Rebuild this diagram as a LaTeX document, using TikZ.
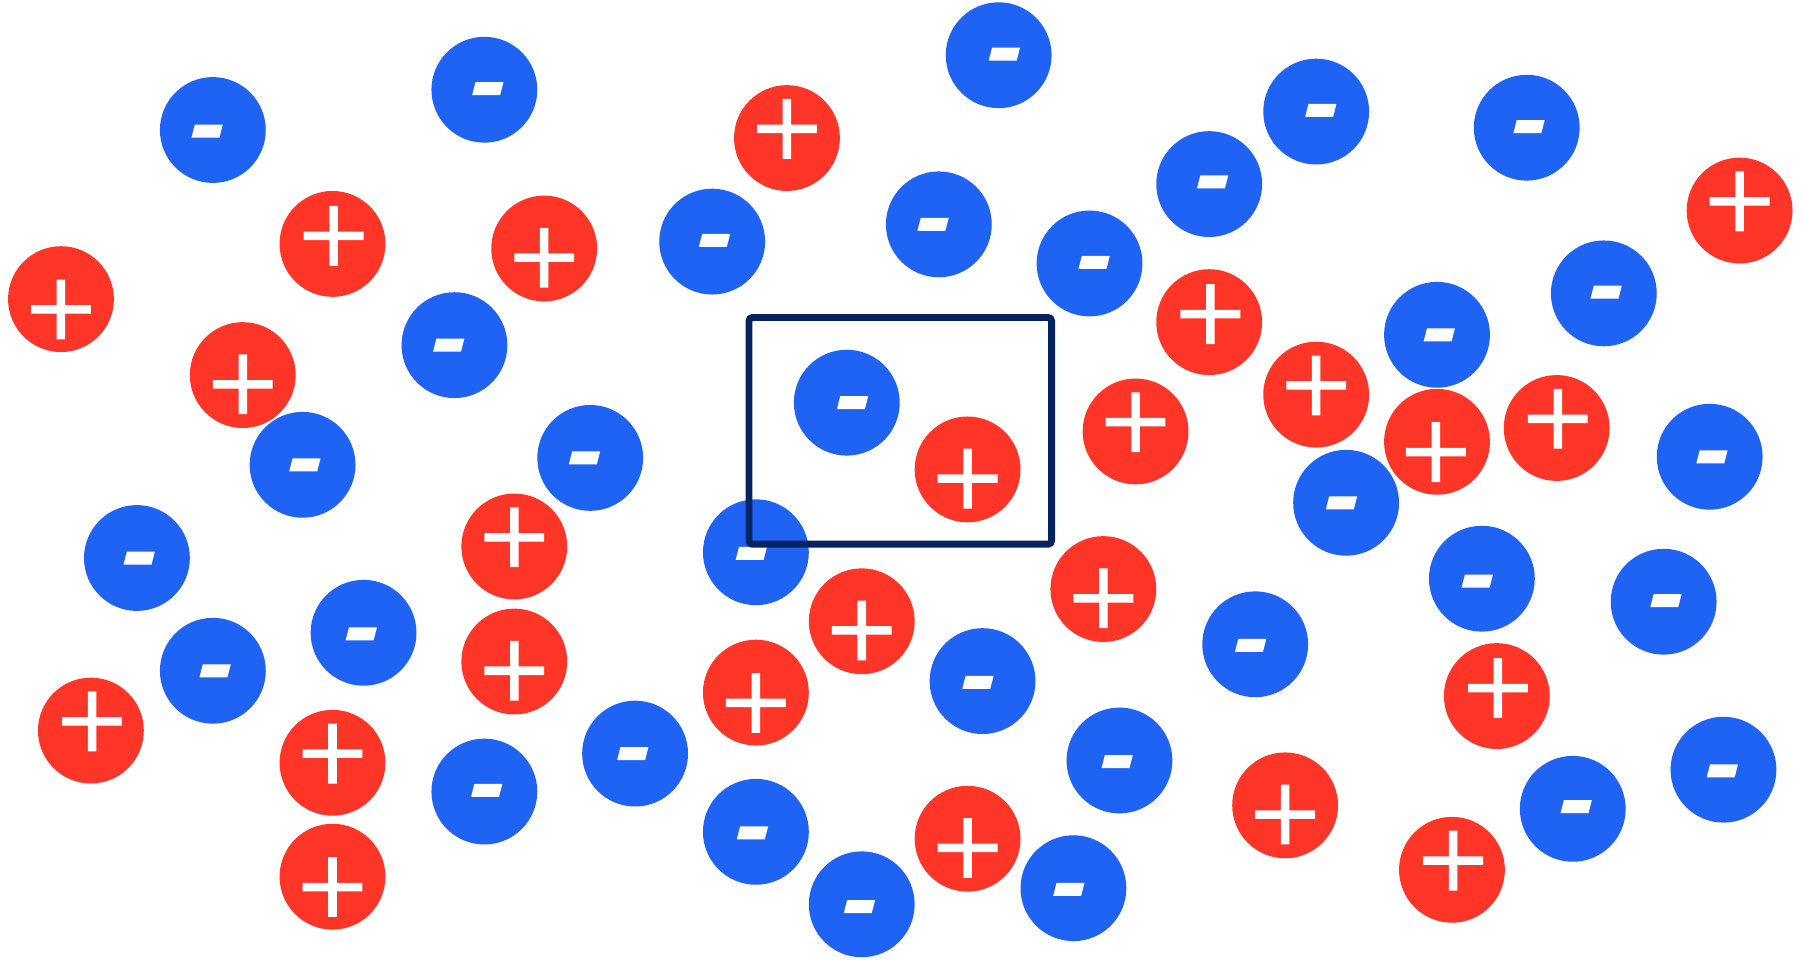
\documentclass[tikz,border=0pt]{standalone}
\definecolor{cblue}{RGB}{31,99,245}
\definecolor{cred}{RGB}{255,53,40}
\definecolor{cnavy}{RGB}{6,36,96}
\tikzset{
  pics/neg/.style 2 args={code={
    \fill[cblue] (0,0) circle[radius=46];
    \fill[white,shift={(#1,#2)}] (-10.7,-5.65) -- (13.6,-5.65) -- (10.7,5.65) -- (-13.6,5.65) -- cycle;
  }},
  pics/pos/.style 2 args={code={
    \fill[cred] (0,0) circle[radius=46];
    \fill[white,shift={(#1,#2)}] (-3.7,-26) rectangle (3.7,26) (-26,-3.7) rectangle (26,3.7);
  }},
  framebox/.style={draw=cnavy, line width=3pt, rounded corners=1.5pt},
}
\begin{document}
\begin{tikzpicture}[x=0.5pt,y=-0.5pt]
\useasboundingbox (0,0) rectangle (1568,834);
% negative ions
\pic at (185,113) {neg={-5}{1}};
\pic at (421,78) {neg={3}{-1}};
\pic at (868,48) {neg={5}{-1}};
\pic at (1144,97) {neg={4}{-1}};
\pic at (1327,111) {neg={2}{-1}};
\pic at (1051,160) {neg={3}{-2}};
\pic at (816,195) {neg={-5}{0}};
\pic at (619,210) {neg={2}{-1}};
\pic at (947,229) {neg={4}{-1}};
\pic at (395,300) {neg={-5}{0}};
\pic at (1394,255) {neg={2}{-1}};
\pic at (1249,291) {neg={2}{0}};
\pic at (736,350) {neg={5}{0}};
\pic at (263,404) {neg={2}{0}};
\pic at (513,398) {neg={-5}{0}};
\pic at (1486,397) {neg={2}{0}};
\pic at (1170,437) {neg={-4}{0}};
\pic at (119,485) {neg={2}{0}};
\pic at (657,480) {neg={-4}{1}};
\pic at (1288,503) {neg={-4}{2}};
\pic at (1446,523) {neg={2}{-1}};
\pic at (316,550) {neg={-2}{1}};
\pic at (185,583) {neg={2}{0}};
\pic at (1091,560) {neg={-4}{1}};
\pic at (854,592) {neg={-4}{1}};
\pic at (552,655) {neg={-2}{0}};
\pic at (421,688) {neg={2}{-1}};
\pic at (973,661) {neg={-2}{1}};
\pic at (1498,669) {neg={-1}{1}};
\pic at (1367,703) {neg={3}{-2}};
\pic at (657,723) {neg={-3}{1}};
\pic at (749,786) {neg={-2}{2}};
\pic at (933,772) {neg={-4}{1}};
% positive ions
\pic at (684,120) {pos={0}{-8}};
\pic at (1512,183) {pos={0}{-8}};
\pic at (289,212) {pos={1}{-7}};
\pic at (473,216) {pos={0}{8}};
\pic at (53,260) {pos={0}{9}};
\pic at (211,326) {pos={0}{8}};
\pic at (1051,280) {pos={1}{-7}};
\pic at (1144,343) {pos={0}{-8}};
\pic at (987,375) {pos={0}{-8}};
\pic at (1249,384) {pos={-1}{9}};
\pic at (1353,372) {pos={1}{-8}};
\pic at (841,408) {pos={0}{8}};
\pic at (447,475) {pos={0}{-8}};
\pic at (959,512) {pos={0}{8}};
\pic at (749,540) {pos={0}{8}};
\pic at (447,575) {pos={0}{8}};
\pic at (657,602) {pos={0}{9}};
\pic at (79,635) {pos={1}{-8}};
\pic at (289,663) {pos={0}{-8}};
\pic at (1301,605) {pos={1}{-7}};
\pic at (1117,700) {pos={0}{8}};
\pic at (841,729) {pos={0}{8}};
\pic at (1262,756) {pos={1}{-8}};
\pic at (289,762) {pos={0}{9}};
% frame
\draw[framebox] (651,276) rectangle (914,473);
\end{tikzpicture}
\end{document}
